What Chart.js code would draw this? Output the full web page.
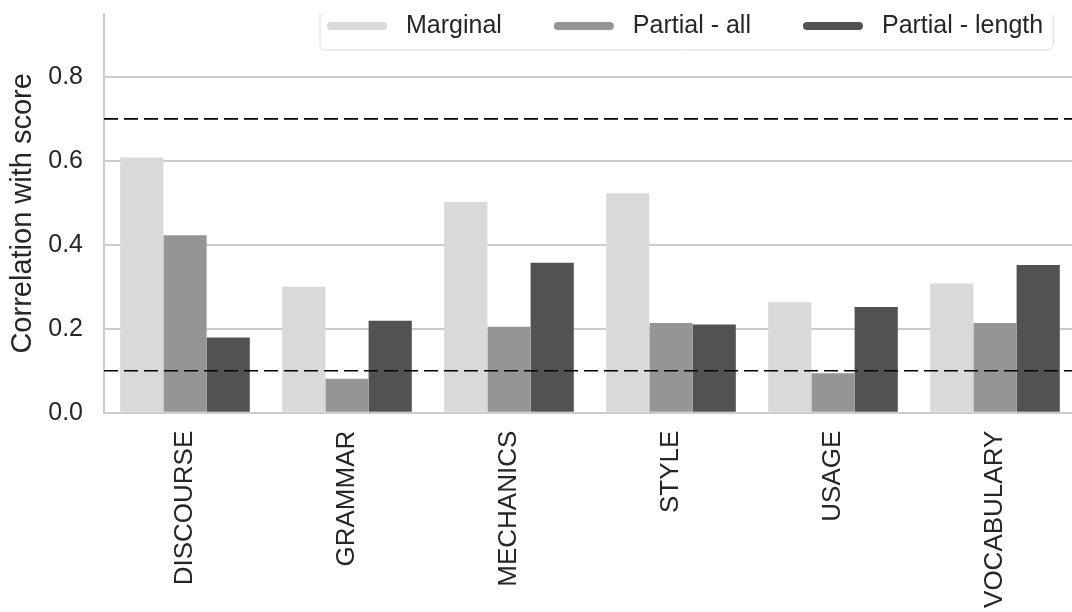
<!DOCTYPE html>
<html>
<head>
<meta charset="utf-8">
<title>Correlation with score</title>
<script src="https://cdn.jsdelivr.net/npm/chart.js@4.4.1/dist/chart.umd.min.js"></script>
<style>
  html, body { margin: 0; padding: 0; background: #fff; overflow: hidden; }
  /* plot runs a little past the right edge of the window, as in the source figure */
  #wrap { position: relative; width: 1090px; height: 612px; }
</style>
</head>
<body>
<div id="wrap"><canvas id="chart"></canvas></div>
<script>
// Data
const categories = ["DISCOURSE", "GRAMMAR", "MECHANICS", "STYLE", "USAGE", "VOCABULARY"];
const seriesNames = ["Marginal", "Partial - all", "Partial - length"];
const marginal = [0.608, 0.300, 0.502, 0.523, 0.263, 0.308];
const partialAll = [0.423, 0.081, 0.205, 0.214, 0.094, 0.214];
const partialLength = [0.179, 0.219, 0.357, 0.210, 0.252, 0.352];
const refLines = [0.1, 0.7];
const yTicks = [0, 0.2, 0.4, 0.6, 0.8];

const colors = ["#d9d9d9", "#959595", "#525252"];
const FONT = '"Liberation Sans", Arial, sans-serif';
const INK = "#262626";

Chart.defaults.font.family = FONT;
Chart.defaults.color = INK;

/* ---- dashed horizontal reference lines, drawn over the bars ---- */
const refLinePlugin = {
  id: "refLines",
  afterDatasetsDraw(chart) {
    const { ctx, chartArea: a, scales: { y } } = chart;
    ctx.save();
    ctx.strokeStyle = "#000";
    ctx.lineWidth = 1.7;
    ctx.setLineDash([14, 6]);
    for (const v of refLines) {
      const py = y.getPixelForValue(v);
      ctx.beginPath();
      ctx.moveTo(a.left, py);
      ctx.lineTo(a.right, py);
      ctx.stroke();
    }
    ctx.restore();
  }
};

/* ---- legend with line swatches, matplotlib style ---- */
const lineLegendPlugin = {
  id: "lineLegend",
  afterDraw(chart) {
    const ctx = chart.ctx;
    const top = chart.chartArea.top;
    const bottom = 50, cy = 26, left = 320;
    ctx.save();
    ctx.font = "25px " + FONT;
    ctx.textBaseline = "middle";

    // lay out items first
    const items = [];
    let x = left + 7;
    const n = chart.data.datasets.length;
    chart.data.datasets.forEach((ds, i) => {
      const w = ctx.measureText(ds.label).width;
      items.push({ sx: x, tx: x + 79, label: ds.label, color: ds.backgroundColor });
      x += 79 + w + (i < n - 1 ? 52 : 10);
    });
    const right = x, r = 5;

    // frame (top edge sits on the clipped figure top)
    ctx.beginPath();
    ctx.moveTo(left, top);
    ctx.lineTo(left, bottom - r);
    ctx.arcTo(left, bottom, left + r, bottom, r);
    ctx.lineTo(right - r, bottom);
    ctx.arcTo(right, bottom, right, bottom - r, r);
    ctx.lineTo(right, top);
    ctx.fillStyle = "#fff";
    ctx.fill();
    ctx.strokeStyle = "#dcdcdc";
    ctx.lineWidth = 1;
    ctx.stroke();

    for (const it of items) {
      ctx.strokeStyle = it.color;
      ctx.lineWidth = 8;
      ctx.lineCap = "round";
      ctx.beginPath();
      ctx.moveTo(it.sx + 4, cy);
      ctx.lineTo(it.sx + 56, cy);
      ctx.stroke();
      ctx.fillStyle = INK;
      ctx.fillText(it.label, it.tx, cy);
    }
    ctx.restore();
  }
};

const ctx = document.getElementById("chart").getContext("2d");
new Chart(ctx, {
  type: "bar",
  data: {
    labels: categories,
    datasets: [
      { label: seriesNames[0], data: marginal, backgroundColor: colors[0] },
      { label: seriesNames[1], data: partialAll, backgroundColor: colors[1] },
      { label: seriesNames[2], data: partialLength, backgroundColor: colors[2] }
    ]
  },
  options: {
    responsive: true,
    maintainAspectRatio: false,
    animation: false,
    categoryPercentage: 0.8,
    barPercentage: 1.0,
    borderWidth: 0,
    layout: { padding: { top: 14, right: 14, left: 0, bottom: 0 } },
    plugins: {
      legend: { display: false },
      tooltip: { enabled: false }
    },
    scales: {
      x: {
        grid: { display: false, drawTicks: false },
        border: { display: true, color: "#cccccc", width: 2 },
        ticks: {
          autoSkip: false,
          minRotation: 90,
          maxRotation: 90,
          padding: 18,
          color: INK,
          font: { size: 26 }
        },
        afterFit: (s) => {
          s.height = 199.3;
          s.paddingLeft = 0;
          s.paddingRight = 0;
        }
      },
      y: {
        min: 0,
        max: 0.95,
        afterBuildTicks: (s) => { s.ticks = yTicks.map(v => ({ value: v })); },
        grid: { color: "#cccccc", lineWidth: 2, drawTicks: false },
        border: { display: true, color: "#cccccc", width: 2 },
        ticks: {
          padding: 21,
          color: INK,
          font: { size: 25 },
          callback: (v) => Number(v).toFixed(1)
        },
        title: {
          display: true,
          text: "Correlation with score",
          color: INK,
          font: { size: 29 },
          padding: { top: 6, bottom: 0 }
        },
        afterFit: (s) => {
          s.width = 104;
          // no extra room for half tick labels: axis top sits right at the padding
          s.paddingTop = 0;
          s.paddingBottom = 0;
        }
      }
    }
  },
  plugins: [refLinePlugin, lineLegendPlugin]
});
</script>
</body>
</html>
